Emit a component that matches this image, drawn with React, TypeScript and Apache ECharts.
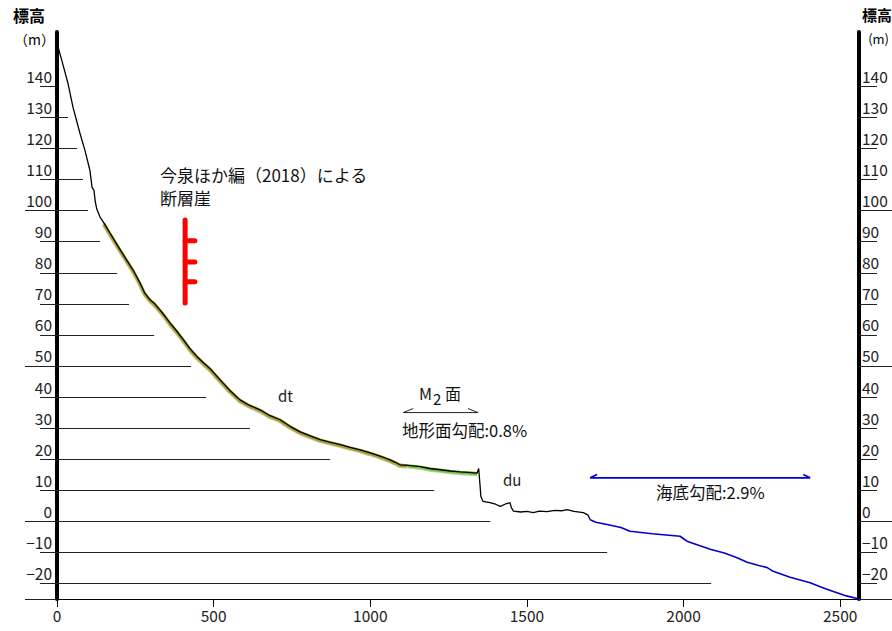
import React, { useEffect, useRef } from "react";
import * as echarts from "echarts";

const FONT = '"Noto Sans CJK JP", "Noto Sans", sans-serif';

// axis settings
const xTicks = [0, 500, 1000, 1500, 2000, 2500];
const yLabels = [140, 130, 120, 110, 100, 90, 80, 70, 60, 50, 40, 30, 20, 10, 0, -10, -20];
const yMajor = [100, 50, 0, -25];
// horizontal level lines: elevation and the distance where each line ends
const levels = [130, 120, 110, 100, 90, 80, 70, 60, 50, 40, 30, 20, 10, 0, -10, -20];
const levelEnds = [35, 64, 83, 99, 137, 192, 230, 310, 428, 476, 616, 872, 1204, 1383, 1756, 2088];

// land profile (distance m, elevation m)
const landProfile: [number, number][] = [
  [0, 154], [8, 151], [19, 147], [35, 141], [51, 133.3], [73, 125], [89, 119.5], [105, 113],
  [112, 107.5], [118, 106.5], [122, 103], [127, 100.5], [137, 98], [150, 96], [169, 92.8],
  [195, 88.5], [223, 84], [245, 80.5], [265, 76.7], [280, 73.5], [297, 71.3], [312, 70],
  [329, 68], [345, 66], [361, 63.8], [380, 61.5], [403, 58.5], [425, 55.5], [447, 53],
  [470, 50.8], [490, 49], [520, 45.6], [550, 42.3], [584, 39.1], [615, 37.3], [648, 35.9],
  [680, 34], [712, 32.7], [745, 30.5], [776, 28.8], [808, 27.5], [840, 26.3], [870, 25.5],
  [904, 24.7], [935, 23.8], [967, 23], [1000, 22], [1031, 21], [1050, 20.3], [1063, 19.8],
  [1080, 19], [1095, 18.2], [1120, 18], [1159, 17.6], [1190, 17], [1223, 16.6], [1255, 16.2],
  [1287, 15.9], [1320, 15.7], [1341, 15.5], [1346, 17], [1350, 12], [1353, 8], [1360, 6.4],
  [1382, 6], [1400, 5.5], [1415, 4.8], [1430, 5.5], [1446, 6], [1450, 4.5], [1457, 3.3],
  [1480, 3], [1500, 3.2], [1520, 2.8], [1540, 3.3], [1564, 3.1], [1590, 3.5], [1610, 3.4],
  [1628, 3.8], [1650, 3.2], [1680, 2.8], [1695, 2], [1702, 0.5],
];

// sea-bottom profile
const seaProfile: [number, number][] = [
  [1702, 0.5], [1720, -0.3], [1756, -1], [1800, -2], [1829, -3.2], [1900, -4], [1989, -4.8],
  [2000, -5.6], [2011, -6.4], [2050, -7.8], [2085, -9], [2130, -10.2], [2171, -11.7],
  [2203, -13.2], [2240, -14.2], [2267, -14.9], [2286, -16.1], [2340, -18], [2404, -19.8],
  [2440, -21.2], [2478, -22.6], [2520, -24], [2560, -25],
];

// terrace surfaces (dt: olive, M2: green) ranges along the profile
const dtRange = [150, 1120];
const m2Range = [1100, 1341];

// fault scarp symbol
const faultX = 409;
const faultTop = 97;
const faultBottom = 70.3;
const faultTicks = [90.3, 83.5, 77.1];
const faultTickEnd = 440;

// slope arrows
const m2Arrow = { x1: 1105, x2: 1344, y: 35 };
const seaArrow = { x1: 1702, x2: 2404, y: 14 };

const X_MAX = 2560;
const Y_MIN = -25;
const Y_MAX = 157.5;

const minus = (v: number) => String(v).replace("-", "\u2212");

export default function App() {
  const ref = useRef<HTMLDivElement>(null);
  useEffect(() => {
    if (!ref.current) return;
    const chart = echarts.init(ref.current, null, { renderer: "svg" });

    const inRange = (r: number[]) => landProfile.filter((p) => p[0] >= r[0] && p[0] <= r[1]);

    const halfArrow = (a: { x1: number; x2: number; y: number }, dx: number, dy: number) => [
      [a.x1 + dx, a.y + dy],
      [a.x1, a.y],
      [a.x2, a.y],
      [a.x2 - dx, a.y + dy],
    ];

    const faultSeries: any[] = [
      {
        type: "line",
        data: [[faultX, faultTop], [faultX, faultBottom]],
        symbol: "none",
        lineStyle: { color: "#ff0000", width: 5, cap: "round" },
        z: 5,
      },
      ...faultTicks.map((t) => ({
        type: "line",
        data: [[faultX, t], [faultTickEnd, t]],
        symbol: "none",
        lineStyle: { color: "#ff0000", width: 5, cap: "round" },
        z: 5,
      })),
    ];

    const yBase = { type: "value", min: Y_MIN, max: Y_MAX, splitLine: { show: false } };

    const txt = (left: number, top: number, text: string, fontSize: number, extra: any = {}) => ({
      type: "text",
      left,
      top,
      style: { text, fontSize, fill: "#111", fontFamily: FONT, ...extra },
    });

    const option: any = {
      animation: false,
      textStyle: { fontFamily: FONT },
      grid: { left: 57, right: 33, top: 32, bottom: 32 },
      xAxis: {
        type: "value",
        min: 0,
        max: X_MAX,
        splitLine: { show: false },
        axisLine: { show: true, onZero: false, lineStyle: { color: "#000", width: 1 } },
        axisTick: { show: true, length: 8, customValues: xTicks, lineStyle: { color: "#000" } },
        axisLabel: {
          customValues: xTicks,
          formatter: (v: number) => String(v),
          fontSize: 15.5,
          color: "#222",
          margin: 8,
          fontFamily: FONT,
        },
      },
      yAxis: [
        {
          ...yBase,
          position: "left",
          axisLine: { show: true, onZero: false, lineStyle: { color: "#000", width: 4 } },
          axisTick: { show: true, length: 17, customValues: yLabels, lineStyle: { color: "#222", width: 1 } },
          axisLabel: {
            customValues: yLabels,
            formatter: minus,
            fontSize: 15.5,
            color: "#222",
            margin: 5,
            verticalAlign: "bottom",
            lineHeight: 17,
            padding: [0, 0, 2, 0],
            fontFamily: FONT,
          },
        },
        {
          ...yBase,
          position: "left",
          axisLine: { show: false, onZero: false },
          axisTick: { show: true, length: 32, customValues: yMajor, lineStyle: { color: "#222", width: 1 } },
          axisLabel: { show: false },
        },
        {
          ...yBase,
          position: "right",
          axisLine: { show: true, onZero: false, lineStyle: { color: "#000", width: 4 } },
          axisTick: { show: true, length: 18, customValues: yLabels, lineStyle: { color: "#222", width: 1 } },
          axisLabel: {
            customValues: yLabels,
            formatter: minus,
            fontSize: 15.5,
            color: "#222",
            margin: 3,
            verticalAlign: "bottom",
            lineHeight: 17,
            padding: [0, 0, 2, 0],
            fontFamily: FONT,
          },
        },
        {
          ...yBase,
          position: "right",
          axisLine: { show: false, onZero: false },
          axisTick: { show: true, length: 33, customValues: yMajor, lineStyle: { color: "#222", width: 1 } },
          axisLabel: { show: false },
        },
      ],
      series: [
        {
          type: "line",
          name: "dt",
          data: inRange(dtRange),
          symbol: "none",
          lineStyle: {
            color: "#a39c35",
            width: 2.4,
            shadowColor: "#a39c35",
            shadowOffsetY: 1.6,
            shadowOffsetX: -0.6,
            shadowBlur: 0.5,
          },
          z: 2,
        },
        {
          type: "line",
          name: "M2",
          data: inRange(m2Range),
          symbol: "none",
          lineStyle: {
            color: "#7cc142",
            width: 2.4,
            shadowColor: "#7cc142",
            shadowOffsetY: 1.6,
            shadowBlur: 0.5,
          },
          z: 2,
        },
        {
          type: "line",
          name: "land",
          data: landProfile,
          symbol: "none",
          lineStyle: { color: "#000", width: 1.3 },
          z: 3,
          markLine: {
            silent: true,
            symbol: ["none", "none"],
            label: { show: false },
            lineStyle: { color: "#222", width: 1, type: "solid" },
            data: levels.map((l, i) => [{ coord: [0, l] }, { coord: [levelEnds[i], l] }]),
          },
        },
        {
          type: "line",
          name: "sea",
          data: seaProfile,
          symbol: "none",
          lineStyle: { color: "#0000cc", width: 1.6 },
          z: 3,
        },
        {
          type: "line",
          data: halfArrow(m2Arrow, 32, 1.3),
          symbol: "none",
          lineStyle: { color: "#222", width: 1 },
          z: 4,
        },
        {
          type: "line",
          data: halfArrow(seaArrow, 22, 1.1),
          symbol: "none",
          lineStyle: { color: "#0000cc", width: 1.6 },
          z: 4,
        },
        ...faultSeries,
      ],
      graphic: [
        txt(13, 7, "標高", 16, { fontWeight: "bold", fill: "#000" }),
        txt(14, 32, "（m）", 14, { fill: "#000" }),
        txt(862, 7, "標高", 15, { fontWeight: "bold", fill: "#000" }),
        {
          type: "text",
          right: 3,
          top: 32,
          style: { text: "(m)", fontSize: 13, fill: "#000", fontFamily: FONT },
        },
        txt(160, 166, "今泉ほか編（2018）による", 17),
        txt(160, 189, "断層崖", 17),
        txt(278, 388, "dt", 15, { fill: "#222" }),
        txt(419, 385, "M", 16),
        txt(433, 391, "2", 15),
        txt(445, 385, "面", 16),
        txt(402, 422, "地形面勾配:0.8%", 16.5),
        txt(503, 472, "du", 15, { fill: "#222" }),
        txt(656, 484, "海底勾配:2.9%", 16.5),
      ],
    };
    chart.setOption(option);
    return () => chart.dispose();
  }, []);
  return (
    <div
      ref={ref}
      style={{ position: "fixed", left: 0, top: 0, width: 892, height: 631, background: "#fff" }}
    />
  );
}
